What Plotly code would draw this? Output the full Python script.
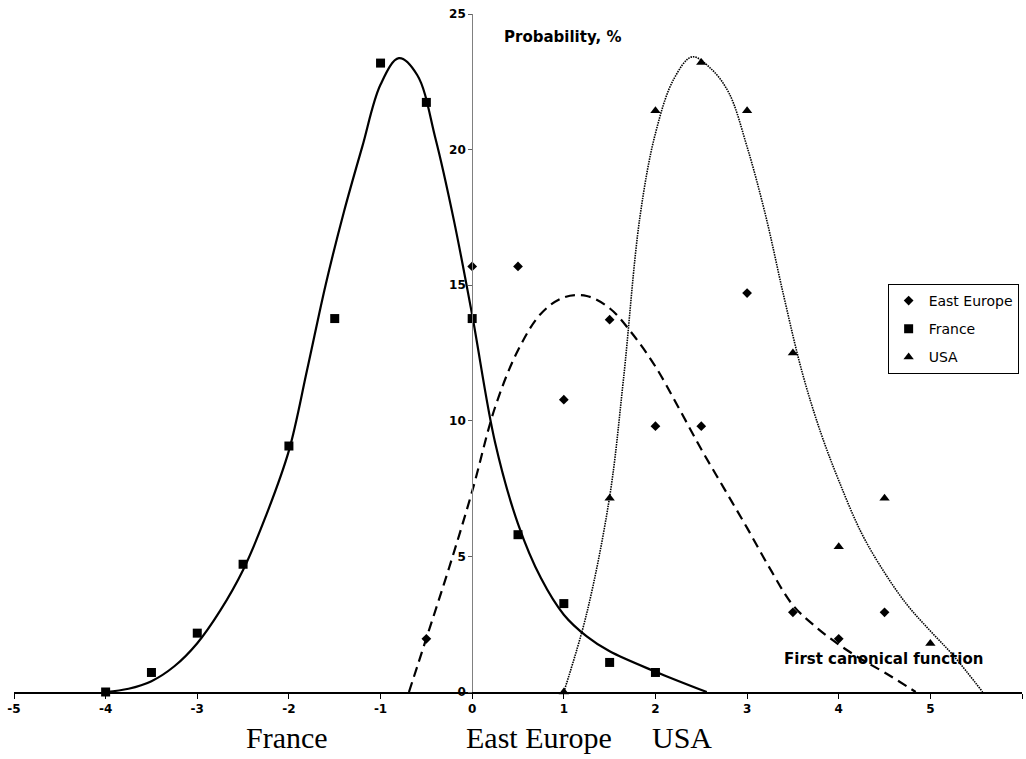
import plotly.graph_objects as go

# ---- observed points ----
ee_x = [-0.5, 0, 0.5, 1, 1.5, 2, 2.5, 3, 3.5, 4, 4.5]
ee_y = [1.96, 15.69, 15.69, 10.78, 13.73, 9.80, 9.80, 14.71, 2.94, 1.96, 2.94]

fr_x = [-4, -3.5, -3, -2.5, -2, -1.5, -1, -0.5, 0, 0.5, 1, 1.5, 2]
fr_y = [0, 0.72, 2.17, 4.71, 9.07, 13.77, 23.19, 21.74, 13.77, 5.80, 3.26, 1.09, 0.72]

us_x = [1, 1.5, 2, 2.5, 3, 3.5, 4, 4.5, 5]
us_y = [0, 7.14, 21.43, 23.21, 21.43, 12.50, 5.36, 7.14, 1.79]

# ---- fitted curves ----
fr_cx = [-4, -3.75, -3.5, -3.25, -3, -2.75, -2.5, -2.25, -2, -1.8, -1.6, -1.4, -1.2, -1.0,
         -0.8, -0.6, -0.4, -0.2, 0, 0.25, 0.5, 0.75, 1, 1.25, 1.5, 2, 2.56]
fr_cy = [0, 0.12, 0.4, 0.95, 1.8, 3.0, 4.5, 6.5, 8.9, 11.9, 15.0, 17.7, 20.1, 22.4,
         23.37, 22.75, 20.4, 17.4, 13.9, 9.2, 6.2, 4.2, 2.85, 2.05, 1.5, 0.75, 0]

ee_cx = [-0.69, -0.5, -0.25, 0, 0.25, 0.5, 0.75, 1.0, 1.25, 1.5, 1.75, 2.0, 2.25,
         2.5, 2.75, 3.0, 3.25, 3.5, 3.75, 4.0, 4.25, 4.5, 4.84]
ee_cy = [0, 1.98, 4.6, 7.4, 10.5, 12.6, 13.95, 14.55, 14.6, 14.15, 13.2, 12.0, 10.5,
         8.95, 7.5, 6.05, 4.55, 3.2, 2.4, 1.75, 1.2, 0.72, 0]

us_cx = [1.0, 1.25, 1.5, 1.65, 1.83, 2.0, 2.2, 2.4, 2.6, 2.8, 3.0, 3.2, 3.4, 3.6,
         3.8, 4.0, 4.25, 4.5, 4.75, 5.0, 5.25, 5.57]
us_cy = [0, 2.9, 7.2, 11.5, 17.5, 20.6, 22.6, 23.42, 23.0, 22.1, 20.1, 17.6, 14.6, 11.8,
         9.6, 7.8, 5.85, 4.4, 3.2, 2.25, 1.35, 0]

x_ticks = [-5, -4, -3, -2, -1, 0, 1, 2, 3, 4, 5, 6]
y_ticks = [0, 5, 10, 15, 20, 25]
group_labels = ["France", "East Europe", "USA"]
group_label_x = [-2.02, 0.73, 2.29]

fig = go.Figure()

# curves
fig.add_trace(go.Scatter(x=fr_cx, y=fr_cy, mode="lines", showlegend=False, hoverinfo="skip",
                         line=dict(color="black", width=2.2, shape="spline", smoothing=1.0)))
fig.add_trace(go.Scatter(x=ee_cx, y=ee_cy, mode="lines", showlegend=False, hoverinfo="skip",
                         line=dict(color="black", width=2.2, dash="10px,6px", shape="spline", smoothing=1.0)))
fig.add_trace(go.Scatter(x=us_cx, y=us_cy, mode="lines", showlegend=False, hoverinfo="skip",
                         line=dict(color="black", width=1.6, dash="1.5px,1px", shape="spline", smoothing=1.0)))

# points
fig.add_trace(go.Scatter(x=ee_x, y=ee_y, mode="markers", name="East Europe", legendgroup="a",
                         marker=dict(symbol="diamond", size=7.5, color="black"), cliponaxis=False))
fig.add_trace(go.Scatter(x=fr_x, y=fr_y, mode="markers", name="France", legendgroup="b",
                         marker=dict(symbol="square", size=9, color="black"), cliponaxis=False))
fig.add_trace(go.Scatter(x=us_x, y=us_y, mode="markers", name="USA", legendgroup="c",
                         marker=dict(symbol="triangle-up", size=9, color="black"), cliponaxis=False))

tickfont = dict(family="DejaVu Sans", size=12, color="black", weight="bold")

fig.update_layout(
    width=1026, height=759,
    margin=dict(l=14, r=4, t=14, b=67),
    paper_bgcolor="white", plot_bgcolor="white",
    xaxis=dict(range=[-5, 6], tickvals=x_ticks, ticktext=[str(v) for v in x_ticks],
               showgrid=False, zeroline=False, showline=True, linecolor="black", linewidth=2,
               ticks="outside", ticklen=5, tickcolor="black", tickwidth=1, tickfont=tickfont),
    yaxis=dict(range=[0, 25], tickvals=y_ticks, ticktext=[str(v) for v in y_ticks],
               anchor="free", position=5 / 11,
               showgrid=False, zeroline=False, showline=True, linecolor="#808080", linewidth=1,
               ticks="outside", ticklen=4, tickcolor="#606060", tickwidth=1, tickfont=tickfont),
    legend=dict(x=0.8667, y=0.6018, xanchor="left", yanchor="top",
                bordercolor="black", borderwidth=1, bgcolor="white",
                font=dict(family="DejaVu Sans", size=14, color="black"),
                traceorder="grouped", tracegroupgap=7, itemwidth=30),
    showlegend=True,
)

fig.add_annotation(x=0.985, y=24.15, xref="x", yref="y", text="Probability, %", showarrow=False,
                   font=dict(family="DejaVu Sans", size=15, color="black", weight="bold"))
fig.add_annotation(x=4.49, y=1.22, xref="x", yref="y", text="First canonical function", showarrow=False,
                   font=dict(family="DejaVu Sans", size=15, color="black", weight="bold"))

for lbl, lx in zip(group_labels, group_label_x):
    fig.add_annotation(x=lx, y=-0.0945, xref="x", yref="paper", text=lbl, showarrow=False,
                       yanchor="bottom",
                       font=dict(family="Liberation Serif", size=30, color="black"))

fig.write_html("out.html")
